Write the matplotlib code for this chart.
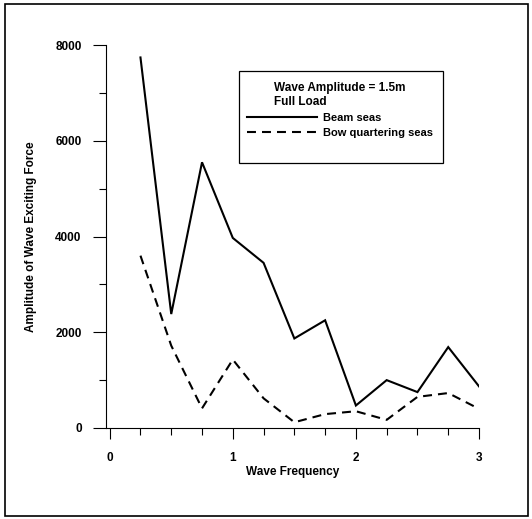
import matplotlib
matplotlib.use("Agg")
import matplotlib.pyplot as plt
from matplotlib.patches import Rectangle
from matplotlib.ticker import MultipleLocator

plt.rcParams['font.family'] = ['Liberation Sans', 'DejaVu Sans']
plt.rcParams['font.weight'] = 'bold'

wave_frequency = [0.25, 0.5, 0.75, 1.0, 1.25, 1.5, 1.75, 2.0, 2.25, 2.5, 2.75, 3.0]
beam_seas = [7740, 2380, 5550, 3970, 3450, 1870, 2250, 470, 1000, 750, 1690, 870]
bow_quartering_seas = [3600, 1720, 410, 1430, 620, 120, 290, 350, 170, 650, 730, 400]

legend_title = "Wave Amplitude = 1.5m\nFull Load"
series_labels = ["Beam seas", "Bow quartering seas"]
x_ticks = [0, 1, 2, 3]
y_ticks = [0, 2000, 4000, 6000, 8000]

W, H = 532, 519
fig = plt.figure(figsize=(W / 100, H / 100), dpi=100)

def fx(px):
    return px / W

def fy(py):
    return 1 - py / H

ax = fig.add_axes([fx(106), fy(428), fx(479) - fx(106), fy(45) - fy(428)])

l1, = ax.plot(wave_frequency, beam_seas, color='black', lw=1.5, solid_joinstyle='miter')
l2, = ax.plot(wave_frequency, bow_quartering_seas, color='black', lw=1.5,
              linestyle=(0, (4.3, 2.9)))

ax.set_xlim(-0.03, 3.0)
ax.set_ylim(0, 8000)
ax.set_xticks(x_ticks)
ax.set_xticklabels([str(t) for t in x_ticks])
ax.set_yticks(y_ticks)
ax.set_yticklabels([str(t) for t in y_ticks])
ax.xaxis.set_minor_locator(MultipleLocator(0.25))
ax.yaxis.set_minor_locator(MultipleLocator(1000))

for s in ['top', 'right']:
    ax.spines[s].set_visible(False)
for s in ['left', 'bottom']:
    ax.spines[s].set_linewidth(0.8)

ax.tick_params(axis='y', which='major', length=9.5, width=0.8, pad=8, labelsize=8.5)
ax.tick_params(axis='y', which='minor', length=5, width=0.8)
ax.tick_params(axis='x', which='major', length=8, width=0.8, pad=9, labelsize=8.5)
ax.tick_params(axis='x', which='minor', length=5, width=0.8)

ax.set_xlabel("Wave Frequency", fontsize=8.5, fontweight='bold', labelpad=2)
ax.set_ylabel("Amplitude of Wave Exciting Force", fontsize=8.5, fontweight='bold', labelpad=13)

leg = ax.legend([l1, l2], series_labels, title=legend_title, frameon=False,
                loc='upper left', bbox_to_anchor=(fx(239), fy(74)),
                bbox_transform=fig.transFigure, fontsize=8,
                title_fontsize=8.5, handlelength=6.3, handletextpad=0.6,
                labelspacing=0.45, alignment='center', borderpad=0.2)
leg.get_title().set_fontweight('bold')

fig.patches.append(Rectangle((fx(239), fy(163)), fx(443) - fx(239), fy(71) - fy(163),
                             transform=fig.transFigure, fill=False, lw=0.9,
                             edgecolor='black'))
fig.patches.append(Rectangle((fx(4.5), fy(515.5)), fx(527.5) - fx(4.5), fy(3.5) - fy(515.5),
                             transform=fig.transFigure, fill=False, lw=1.2,
                             edgecolor='black'))

fig.savefig("out.png", dpi=100)
